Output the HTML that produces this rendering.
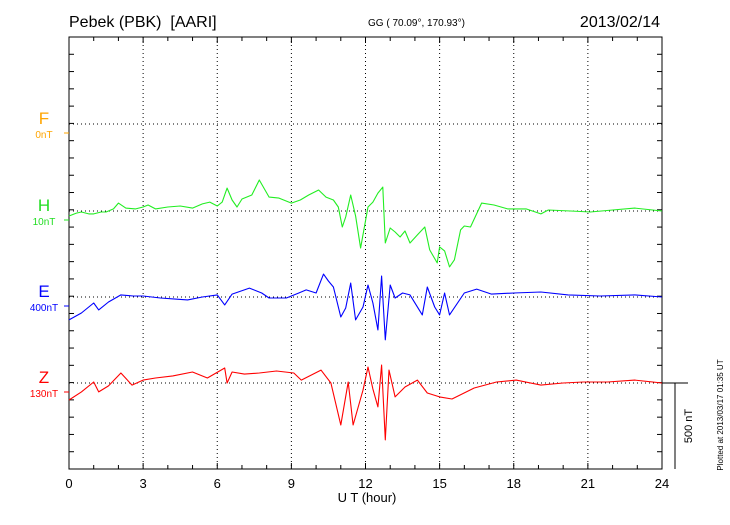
<!DOCTYPE html>
<html><head><meta charset="utf-8"><style>
body{margin:0;background:#fff;width:730px;height:520px;overflow:hidden;font-family:"Liberation Sans",sans-serif}
</style></head><body>
<svg id="chart" width="730" height="520" xmlns="http://www.w3.org/2000/svg" font-family="Liberation Sans, sans-serif">
<text x="69" y="27" font-size="16">Pebek (PBK)&#160; [AARI]</text>
<text x="368" y="26" font-size="10">GG ( 70.09°, 170.93°)</text>
<text x="660" y="27" font-size="16" text-anchor="end">2013/02/14</text>
<g id="grid"></g>
<rect x="69" y="37" width="593" height="432" fill="none" stroke="#000" stroke-width="1"/>
<g id="series"></g>
<g id="labels"></g>
<text x="367" y="502" font-size="13" text-anchor="middle">U T (hour)</text>
<line x1="662" y1="383" x2="688" y2="383" stroke="#000"/>
<line x1="675" y1="383" x2="675" y2="469" stroke="#000"/>
<text transform="translate(692,426) rotate(-90)" font-size="11" text-anchor="middle">500 nT</text>
<text transform="translate(723,415) rotate(-90)" font-size="8" text-anchor="middle">Plotted at 2013/03/17 01:35 UT</text>
</svg>
<script>
const xTicks=[0,3,6,9,12,15,18,21,24];
const hT=[0,0.3,0.5,0.8,1,1.3,1.5,1.8,2,2.3,2.7,3.0,3.2,3.5,4,4.5,5,5.4,5.7,6,6.2,6.4,6.6,6.8,7,7.4,7.7,8.1,8.5,9,9.36,9.7,10.1,10.4,10.7,10.9,11.06,11.2,11.4,11.6,11.8,12.1,12.3,12.5,12.7,12.8,13.0,13.2,13.4,13.6,13.8,14.1,14.4,14.6,14.9,15.0,15.2,15.4,15.6,15.85,16.0,16.25,16.7,17.2,17.75,18.5,19.1,19.4,20.3,21.1,22.0,22.9,24];
const hV=[-29,-12,-6,-17,-17,-6,-6,12,46,17,12,23,35,12,23,29,17,41,52,29,52,133,64,23,70,93,180,81,75,46,64,93,122,81,64,23,-93,-35,93,-29,-215,23,52,104,139,-186,-99,-122,-151,-116,-186,-139,-93,-226,-302,-209,-232,-325,-284,-110,-87,-93,46,35,12,12,-17,6,0,-6,6,17,0];
const eT=[0,0.5,1.0,1.2,1.6,2.1,2.6,3.0,3.7,4.3,4.8,5.4,6.0,6.3,6.6,7.3,7.8,8.1,8.8,9.3,9.6,10.0,10.3,10.5,10.7,11.0,11.2,11.4,11.6,11.9,12.1,12.3,12.5,12.65,12.8,13.0,13.2,13.5,13.8,14.3,14.5,14.8,15.0,15.2,15.4,16.0,16.5,17.1,18.0,19.1,20.2,21.5,22.9,24];
const eV=[-133,-93,-35,-75,-29,12,6,6,-6,-12,-17,0,12,-46,17,52,23,-6,-6,23,41,23,133,93,58,-116,-64,81,-133,-58,70,-35,-191,122,-249,70,-6,23,12,-104,58,-58,-104,23,-104,23,46,17,23,29,12,6,12,0];
const zT=[0,0.5,1.0,1.2,1.6,2.1,2.55,3.0,3.5,4.2,5.0,5.6,6.3,6.4,6.6,7.1,7.7,8.4,9.1,9.4,10.2,10.6,11.0,11.3,11.5,11.9,12.1,12.3,12.5,12.65,12.8,12.95,13.2,13.6,14.1,14.5,15.0,15.5,16.4,17.3,18.1,19.1,20.0,20.8,21.8,22.9,24];
const zV=[-99,-52,6,-52,-17,58,-12,17,29,41,64,29,87,0,64,52,58,70,58,17,75,0,-244,6,-244,-41,93,-35,-139,104,-331,75,-81,-23,17,-58,-81,-93,-29,6,17,-12,0,6,6,17,0];
const fT=[0,24];const fV=[0,0];
const names=['F','H','E','Z'];
const units=['0nT','10nT','400nT','130nT'];
const colors=['#ffa500','#22ee22','#0000ff','#ff0000'];
const bases=[124,211,297,383];
const X=h=>69+h*593/24;
const Y=(b,v)=>b-v*86/500;
const NS='http://www.w3.org/2000/svg';
function mk(t,a,p){const e=document.createElementNS(NS,t);for(const k in a)e.setAttribute(k,a[k]);p.appendChild(e);return e;}
const grid=document.getElementById('grid');
for(let h=1;h<24;h++){
  if(h%3===0){const l=mk('line',{x1:X(h),x2:X(h),y1:37,y2:469,stroke:'#000','stroke-dasharray':'1,3'},grid);
  
  }
  const len=h%3===0?6:4;
  mk('line',{x1:X(h),x2:X(h),y1:37,y2:37+len,stroke:'#000'},grid);
  mk('line',{x1:X(h),x2:X(h),y1:469,y2:469-len,stroke:'#000'},grid);
}
for(const b of bases){const l=mk('line',{x1:69,x2:662,y1:b,y2:b,stroke:'#000','stroke-dasharray':'1,3'},grid);

}
for(let y=37+86.4/5;y<469;y+=86.4/5){mk('line',{x1:69,x2:74,y1:y,y2:y,stroke:'#000'},grid);mk('line',{x1:662,x2:657,y1:y,y2:y,stroke:'#000'},grid);}
xTicks.forEach(h=>{const t=mk('text',{x:X(h),y:488,'font-size':13,'text-anchor':'middle'},grid);t.textContent=h;

});
const ser=document.getElementById('series');
const data=[[fT,fV],[hT,hV],[eT,eV],[zT,zV]];
data.forEach((d,i)=>{
  if(i===0)return;
  const pts=d[0].map((t,j)=>X(t).toFixed(1)+','+Y(bases[i],d[1][j]).toFixed(1)).join(' ');
  const pl=mk('polyline',{points:pts,fill:'none',stroke:colors[i],'stroke-width':1.1,'stroke-linejoin':'round'},ser);
  
  
});
const lab=document.getElementById('labels');
names.forEach((n,i)=>{
  const c=colors[i]==='#22ee22'?'#22dd22':colors[i];
  const t=mk('text',{x:44,y:bases[i],'font-size':17,'text-anchor':'middle',fill:c},lab);t.textContent=n;
  
  
  const u=mk('text',{x:44,y:bases[i]+14,'font-size':10,'text-anchor':'middle',fill:c},lab);u.textContent=units[i];
  
  
  mk('line',{x1:64,x2:69,y1:bases[i]+9,y2:bases[i]+9,stroke:colors[i]},lab);
});
</script>
</body></html>
